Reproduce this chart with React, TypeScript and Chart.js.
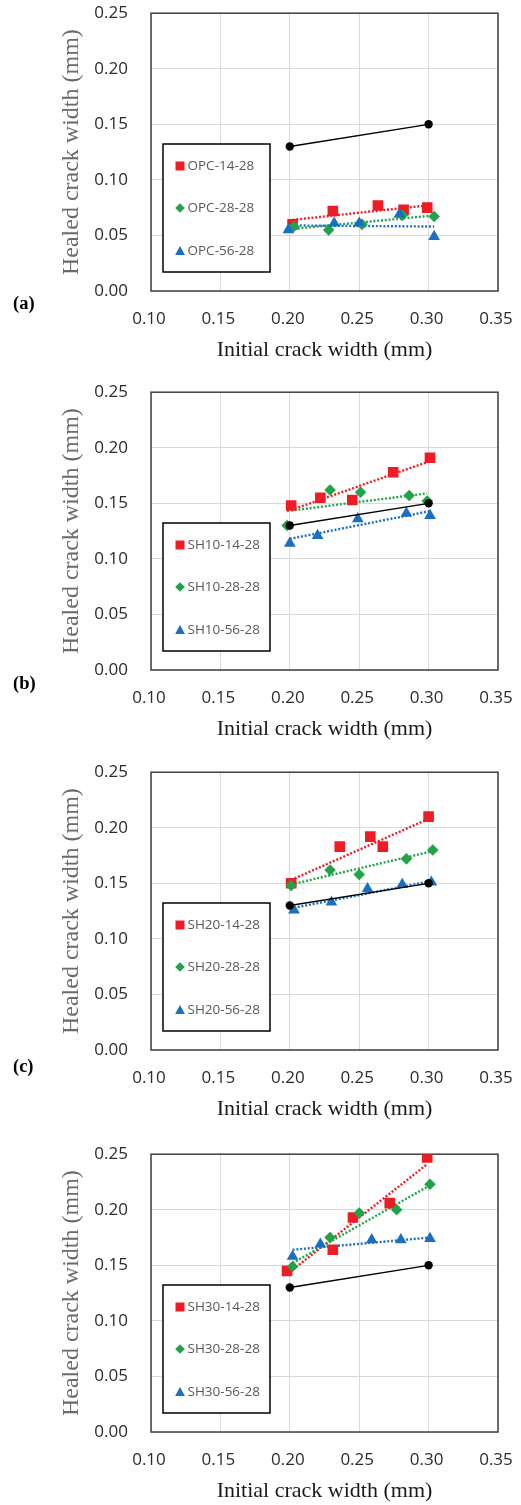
import React, { useEffect, useRef } from "react";
import { Chart, registerables } from "chart.js";
Chart.register(...registerables);

// ---------- shared axis data ----------
const xTickValues = [0.1, 0.15, 0.2, 0.25, 0.3, 0.35];
const yTickValues = [0.0, 0.05, 0.1, 0.15, 0.2, 0.25];
const xTitle = "Initial crack width (mm)";
const yTitle = "Healed crack width (mm)";

// reference (black) line
const refX = [0.2, 0.3];
const refY = [0.13, 0.15];

// ---------- panel (a) ----------
const namesA = ["OPC-14-28", "OPC-28-28", "OPC-56-28"];
const xA14 = [0.202, 0.231, 0.2635, 0.282, 0.299];
const yA14 = [0.06, 0.072, 0.077, 0.073, 0.075];
const xA28 = [0.203, 0.228, 0.252, 0.281, 0.304];
const yA28 = [0.058, 0.055, 0.06, 0.068, 0.067];
const xA56 = [0.199, 0.232, 0.25, 0.279, 0.304];
const yA56 = [0.055, 0.061, 0.061, 0.069, 0.049];
const tA14x = [0.202, 0.299];
const tA14y = [0.064, 0.077];
const tA28x = [0.203, 0.304];
const tA28y = [0.056, 0.068];
const tA56x = [0.199, 0.304];
const tA56y = [0.059, 0.058];

// ---------- panel (b) ----------
const namesB = ["SH10-14-28", "SH10-28-28", "SH10-56-28"];
const xB14 = [0.201, 0.222, 0.245, 0.2745, 0.301];
const yB14 = [0.148, 0.155, 0.153, 0.178, 0.191];
const xB28 = [0.198, 0.229, 0.251, 0.286, 0.299];
const yB28 = [0.13, 0.162, 0.16, 0.157, 0.152];
const xB56 = [0.2, 0.22, 0.249, 0.284, 0.301];
const yB56 = [0.114, 0.121, 0.136, 0.141, 0.139];
const tB14x = [0.201, 0.301];
const tB14y = [0.144, 0.188];
const tB28x = [0.198, 0.299];
const tB28y = [0.143, 0.159];
const tB56x = [0.2, 0.301];
const tB56y = [0.118, 0.143];

// ---------- panel (c) ----------
const namesC = ["SH20-14-28", "SH20-28-28", "SH20-56-28"];
const xC14 = [0.201, 0.236, 0.258, 0.267, 0.3];
const yC14 = [0.15, 0.183, 0.192, 0.183, 0.21];
const xC28 = [0.201, 0.229, 0.25, 0.284, 0.303];
const yC28 = [0.148, 0.162, 0.158, 0.172, 0.18];
const xC56 = [0.203, 0.23, 0.256, 0.281, 0.302];
const yC56 = [0.126, 0.133, 0.145, 0.149, 0.151];
const tC14x = [0.201, 0.3];
const tC14y = [0.153, 0.208];
const tC28x = [0.201, 0.303];
const tC28y = [0.149, 0.179];
const tC56x = [0.203, 0.302];
const tC56y = [0.128, 0.152];

// ---------- panel (d) ----------
const namesD = ["SH30-14-28", "SH30-28-28", "SH30-56-28"];
const xD14 = [0.198, 0.231, 0.2455, 0.272, 0.299];
const yD14 = [0.145, 0.164, 0.193, 0.206, 0.247];
const xD28 = [0.202, 0.229, 0.25, 0.277, 0.301];
const yD28 = [0.149, 0.175, 0.197, 0.2, 0.223];
const xD56 = [0.202, 0.222, 0.259, 0.28, 0.301];
const yD56 = [0.158, 0.169, 0.173, 0.173, 0.174];
const tD14x = [0.198, 0.299];
const tD14y = [0.142, 0.241];
const tD28x = [0.202, 0.301];
const tD28y = [0.152, 0.222];
const tD56x = [0.202, 0.301];
const tD56y = [0.164, 0.175];

const panelLabels = ["(a)", "(b)", "(c)", ""];

type PanelCfg = {
  label: string;
  names: string[];
  xs: number[][];
  ys: number[][];
  tx: number[][];
  ty: number[][];
  top: number;
  labelTop: number;
};

const panels: PanelCfg[] = [
  { label: panelLabels[0], names: namesA, xs: [xA14, xA28, xA56], ys: [yA14, yA28, yA56], tx: [tA14x, tA28x, tA56x], ty: [tA14y, tA28y, tA56y], top: 0, labelTop: 292 },
  { label: panelLabels[1], names: namesB, xs: [xB14, xB28, xB56], ys: [yB14, yB28, yB56], tx: [tB14x, tB28x, tB56x], ty: [tB14y, tB28y, tB56y], top: 379, labelTop: 672 },
  { label: panelLabels[2], names: namesC, xs: [xC14, xC28, xC56], ys: [yC14, yC28, yC56], tx: [tC14x, tC28x, tC56x], ty: [tC14y, tC28y, tC56y], top: 759, labelTop: 1055 },
  { label: panelLabels[3], names: namesD, xs: [xD14, xD28, xD56], ys: [yD14, yD28, yD56], tx: [tD14x, tD28x, tD56x], ty: [tD14y, tD28y, tD56y], top: 1141, labelTop: 0 },
];

const COLORS = ["#ee1c25", "#22a34a", "#1b6fc0"];
const STYLES = ["rect", "rectRot", "triangle"];
const RADII = [7.5, 5.8, 6.8];
const SERIF = '"Times New Roman", "Liberation Serif", serif';
const SANS = '"Open Sans", "Noto Sans", sans-serif';

// canvas is larger than the visible panel: Chart.js adds tick padding to the
// scale's overflow padding, so the canvas extends 20px above and 13px right.
const SHIFT_Y = 20;
const CANVAS_W = 534;
const CANVAS_H = 385;

function drawMarker(ctx: CanvasRenderingContext2D, i: number, x: number, y: number) {
  ctx.beginPath();
  if (i === 0) {
    ctx.rect(x - 4.5, y - 4.5, 9, 9);
  } else if (i === 1) {
    ctx.moveTo(x, y - 4.8);
    ctx.lineTo(x + 4.8, y);
    ctx.lineTo(x, y + 4.8);
    ctx.lineTo(x - 4.8, y);
    ctx.closePath();
  } else {
    ctx.moveTo(x, y - 5);
    ctx.lineTo(x + 4.9, y + 4);
    ctx.lineTo(x - 4.9, y + 4);
    ctx.closePath();
  }
  ctx.fillStyle = COLORS[i];
  ctx.fill();
}

function Panel({ cfg }: { cfg: PanelCfg }) {
  const ref = useRef<HTMLCanvasElement>(null);
  useEffect(() => {
    if (!ref.current) return;
    const datasets: any[] = [];
    datasets.push({
      data: refX.map((x, i) => ({ x, y: refY[i] })),
      showLine: true,
      borderColor: "#000",
      backgroundColor: "#000",
      borderWidth: 1.4,
      pointRadius: 4.2,
      pointStyle: "circle",
      pointBorderWidth: 0,
      order: 0,
    });
    for (let i = 0; i < 3; i++) {
      datasets.push({
        data: cfg.xs[i].map((x, j) => ({ x, y: cfg.ys[i][j] })),
        showLine: false,
        pointStyle: STYLES[i],
        pointRadius: RADII[i],
        backgroundColor: COLORS[i],
        borderColor: COLORS[i],
        pointBorderWidth: 0,
        order: 3 - i,
      });
    }
    for (let i = 0; i < 3; i++) {
      datasets.push({
        data: cfg.tx[i].map((x, j) => ({ x, y: cfg.ty[i][j] })),
        showLine: true,
        pointRadius: 0,
        borderColor: COLORS[i],
        borderWidth: 2.4,
        borderDash: [2, 1.8],
        order: 6 - i,
      });
    }

    const framePlugin = {
      id: "frame",
      beforeDatasetsDraw(chart: any) {
        const { ctx, chartArea: a } = chart;
        ctx.save();
        ctx.strokeStyle = "#404040";
        ctx.lineWidth = 1.5;
        ctx.strokeRect(a.left, a.top, a.right - a.left, a.bottom - a.top);
        ctx.restore();
      },
    };
    const legendPlugin = {
      id: "boxLegend",
      afterDatasetsDraw(chart: any) {
        const ctx: CanvasRenderingContext2D = chart.ctx;
        const bx = 163, by = 144 + SHIFT_Y, bw = 107, bh = 128;
        ctx.save();
        ctx.fillStyle = "#fff";
        ctx.fillRect(bx, by, bw, bh);
        ctx.strokeStyle = "#000";
        ctx.lineWidth = 1.5;
        ctx.strokeRect(bx, by, bw, bh);
        const rows = [166, 208, 251].map((r) => r + SHIFT_Y);
        cfg.names.forEach((n, i) => {
          drawMarker(ctx, i, 180, rows[i]);
          ctx.fillStyle = "#595959";
          ctx.font = `13.5px ${SANS}`;
          ctx.textBaseline = "middle";
          ctx.textAlign = "left";
          ctx.fillText(n, 187.5, rows[i]);
        });
        ctx.restore();
      },
    };

    const chart = new Chart(ref.current, {
      type: "scatter",
      data: { datasets },
      options: {
        responsive: false,
        animation: false,
        events: [],
        layout: { padding: { top: 33, right: 36, bottom: 0, left: 0 } },
        plugins: { legend: { display: false }, tooltip: { enabled: false } },
        scales: {
          x: {
            type: "linear",
            min: 0.1,
            max: 0.35,
            afterBuildTicks: (s: any) => {
              s.ticks = xTickValues.map((v) => ({ value: v }));
            },
            afterFit: (s: any) => {
              s.height = 74;
            },
            ticks: {
              callback: (v: any) => Number(v).toFixed(2),
              font: { family: SANS, size: 17 },
              color: "#2b2b2b",
              padding: 18,
              labelOffset: -2,
              maxRotation: 0,
              autoSkip: false,
            },
            grid: { color: "#d9d9d9", lineWidth: 1, drawTicks: false },
            border: { display: false },
            title: {
              display: true,
              text: xTitle,
              font: { family: SERIF, size: 22 },
              color: "#1a1a1a",
              padding: { top: 0, bottom: 1.2 },
            },
          },
          y: {
            type: "linear",
            min: 0,
            max: 0.25,
            afterBuildTicks: (s: any) => {
              s.ticks = yTickValues.map((v) => ({ value: v }));
            },
            afterFit: (s: any) => {
              s.width = 151;
            },
            ticks: {
              callback: (v: any) => Number(v).toFixed(2),
              font: { family: SANS, size: 17 },
              color: "#2b2b2b",
              padding: 23,
              autoSkip: false,
            },
            grid: { color: "#d9d9d9", lineWidth: 1, drawTicks: false },
            border: { display: false },
            title: {
              display: true,
              text: yTitle,
              font: { family: SERIF, size: 24 },
              color: "#6a6a6a",
              padding: { top: 57.6, bottom: 0 },
            },
          },
        },
      } as any,
      plugins: [framePlugin, legendPlugin],
    });
    return () => chart.destroy();
  }, [cfg]);

  return (
    <>
      <canvas
        ref={ref}
        width={CANVAS_W}
        height={CANVAS_H}
        style={{ position: "absolute", left: 0, top: cfg.top - SHIFT_Y, width: CANVAS_W, height: CANVAS_H }}
      />
      {cfg.label ? (
        <div
          style={{
            position: "absolute",
            left: 13,
            top: cfg.labelTop,
            fontFamily: SERIF,
            fontWeight: "bold",
            fontSize: 18.5,
            lineHeight: "22px",
            color: "#000",
          }}
        >
          {cfg.label}
        </div>
      ) : null}
    </>
  );
}

export default function App() {
  return (
    <div
      style={{
        position: "fixed",
        left: 0,
        top: 0,
        width: 521,
        height: 1505,
        overflow: "hidden",
        background: "#fff",
      }}
    >
      {panels.map((p, i) => (
        <Panel key={i} cfg={p} />
      ))}
    </div>
  );
}
